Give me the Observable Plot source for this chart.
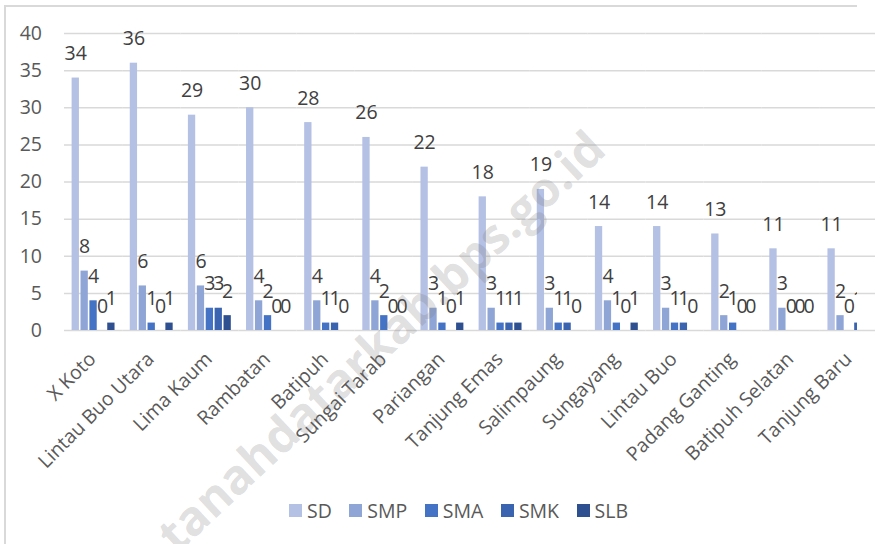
<!DOCTYPE html>
<html><head><meta charset="utf-8">
<script src="https://cdn.jsdelivr.net/npm/d3@7"></script>
<script src="https://cdn.jsdelivr.net/npm/@observablehq/plot@0.6"></script>
<style>
html,body{margin:0;padding:0;background:#fff;overflow:hidden}
#wrap{position:relative;width:875px;height:544px;overflow:hidden;background:#fff;font-family:'Open Sans',sans-serif}
#frame{position:absolute;left:4px;top:5px;width:853px;height:600px;border-left:2px solid #d9d9d9;border-top:2px solid #d9d9d9;box-sizing:border-box}
#chart{position:absolute;left:0;top:0}
#legend{position:absolute;left:289px;top:494px}
#legend [class*="-swatches"] > span{margin-right:17.5px !important}
#legend [class*="-swatches"] > span > svg{margin-right:5px !important}
#wm{position:absolute;left:380px;top:340px;transform:translate(-50%,-50%) rotate(-43deg);font:bold 48px 'Open Sans',sans-serif;color:rgba(120,120,120,0.24);white-space:nowrap;pointer-events:none}
</style>
</head><body>
<div id="wrap">
  <div id="frame"></div>
  <div id="chart"></div>
  <div id="legend"></div>
  <div id="wm">tanahdatarkab.bps.go.id</div>
</div>
<script>
const districts = ["X Koto","Lintau Buo Utara","Lima Kaum","Rambatan","Batipuh","Sungai Tarab","Pariangan","Tanjung Emas","Salimpaung","Sungayang","Lintau Buo","Padang Ganting","Batipuh Selatan","Tanjung Baru"];
const types = ["SD","SMP","SMA","SMK","SLB"];
const sd  = [34,36,29,30,28,26,22,18,19,14,14,13,11,11];
const smp = [8,6,6,4,4,4,3,3,3,4,3,2,3,2];
const sma = [4,1,3,2,1,2,1,1,1,1,1,1,0,0];
const smk = [0,0,3,0,1,0,0,1,1,0,1,0,0,1];
const slb = [1,1,2,0,0,0,1,1,0,1,0,0,0,0];
const yTicks = [0,5,10,15,20,25,30,35,40];
const colors = ["#b4c0e4","#8fa5d6","#4472c4","#3a63b0","#2f5090"];

const series = [sd, smp, sma, smk, slb];
const rows = districts.flatMap((d, i) => types.map((t, j) => ({district: d, type: t, value: series[j][i]})));

const plot = Plot.plot({
  width: 878, height: 490,
  marginLeft: 64, marginRight: 0, marginTop: 33, marginBottom: 160,
  style: {fontFamily: "'Open Sans', sans-serif", fontSize: "19.5px", color: "#595959", background: "transparent", maxWidth: "none"},
  fx: {domain: districts, padding: 0, label: null, round: false},
  x: {domain: types, paddingInner: 0.18, paddingOuter: 0.855, axis: null, round: false},
  y: {domain: [0, 40], axis: null},
  color: {domain: types, range: colors},
  marks: [
    Plot.gridY(yTicks, {stroke: "#d9d9d9", strokeOpacity: 1, strokeWidth: 1.5}),
    Plot.axisY(yTicks, {tickSize: 0, tickPadding: 22.5, label: null, fill: "#595959"}),
    Plot.axisFx({anchor: "bottom", tickSize: 0, tickRotate: -45, label: null, fill: "#595959", dx: -1, dy: 13.5}),
    Plot.barY(rows, {fx: "district", x: "type", y: "value", fill: "type"}),
    Plot.text(rows, {fx: "district", x: "type", y: "value", text: d => String(d.value), lineAnchor: "bottom", dy: -18, fill: "#404040"})
  ]
});
document.getElementById("chart").appendChild(plot);

// clip bars & value labels at the right edge, as in the cropped reference
const ns = "http://www.w3.org/2000/svg";
const defs = document.createElementNS(ns, "defs");
plot.insertBefore(defs, plot.firstChild);
plot.querySelectorAll('g[aria-label="bar"], g[aria-label="text"]').forEach((g, i) => {
  const m = g.getCTM();
  const cp = document.createElementNS(ns, "clipPath");
  cp.setAttribute("id", "clipR" + i);
  cp.setAttribute("clipPathUnits", "userSpaceOnUse");
  const r = document.createElementNS(ns, "rect");
  r.setAttribute("x", -m.e); r.setAttribute("y", -m.f - 1000);
  r.setAttribute("width", 857); r.setAttribute("height", 3000);
  cp.appendChild(r); defs.appendChild(cp);
  g.setAttribute("clip-path", `url(#clipR${i})`);
});

const leg = Plot.legend({
  color: {domain: types, range: colors}, legend: "swatches", swatchSize: 13,
  style: {fontFamily: "'Open Sans', sans-serif", fontSize: "19.5px", color: "#595959", margin: "0"}
});
document.getElementById("legend").appendChild(leg);
</script>
</body></html>
